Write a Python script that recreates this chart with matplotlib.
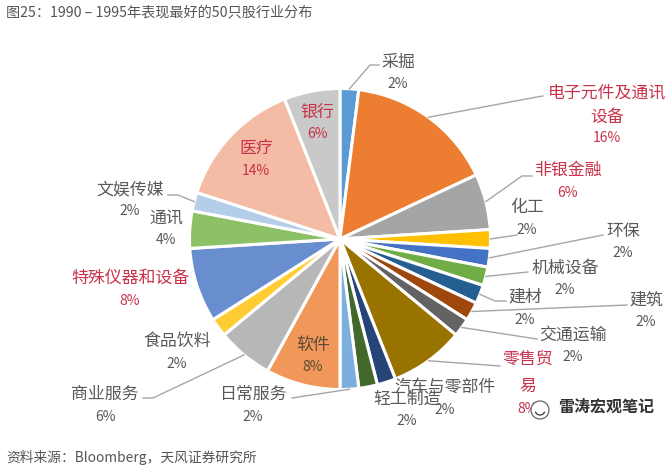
import matplotlib
matplotlib.use('Agg')
import numpy as np
import matplotlib.pyplot as plt
from matplotlib.patches import Circle, Arc

plt.rcParams['font.family'] = ['Noto Sans CJK SC', 'DejaVu Sans']

# 行业分布，从12点方向顺时针
sectors = ['采掘', '电子元件及通讯设备', '非银金融', '化工', '环保', '机械设备', '建材', '建筑',
           '交通运输', '零售贸易', '汽车与零部件', '轻工制造', '日常服务', '软件', '商业服务',
           '食品饮料', '特殊仪器和设备', '通讯', '文娱传媒', '医疗', '银行']
shares = [2, 16, 6, 2, 2, 2, 2, 2, 2, 8, 2, 2, 2, 8, 6, 2, 8, 4, 2, 14, 6]
colors = ['#5B9BD5', '#ED7D31', '#A5A5A5', '#FFC000', '#4472C4', '#70AD47', '#255E91', '#9E480E',
          '#636363', '#997300', '#264478', '#43682B', '#7CAFDD', '#F1975A', '#B7B7B7',
          '#FFCD33', '#698ED0', '#8CC168', '#B4CDE9', '#F4BBA5', '#C9C9C9']
title = '图25：1990 – 1995年表现最好的50只股行业分布'
source = '资料来源：Bloomberg，天风证券研究所'
red_names = ['电子元件及通讯设备', '非银金融', '零售贸易', '特殊仪器和设备', '医疗', '银行']

W, H = 672, 468
CX, CY, R = 340, 239, 150.5

# 标签文字行及中心位置（像素，y向下）
label_lines = {
    '采掘': (398, [(62, '采掘')], 84),
    '电子元件及通讯设备': (607, [(92, '电子元件及通讯'), (117, '设备')], 138),
    '非银金融': (568, [(170, '非银金融')], 193),
    '化工': (527, [(207, '化工')], 230),
    '环保': (623, [(231, '环保')], 253),
    '机械设备': (565, [(268, '机械设备')], 290),
    '建材': (525, [(297, '建材')], 320),
    '建筑': (646, [(300, '建筑')], 322),
    '交通运输': (573, [(335, '交通运输')], 357),
    '零售贸易': (528, [(360, '零售贸'), (386, '易')], 409),
    '汽车与零部件': (445, [(387, '汽车与零部件')], 410),
    '轻工制造': (407, [(399, '轻工制造')], 421),
    '日常服务': (253, [(394, '日常服务')], 417),
    '软件': (313, [(345, '软件')], 367),
    '商业服务': (105, [(394, '商业服务')], 417),
    '食品饮料': (177, [(341, '食品饮料')], 364),
    '特殊仪器和设备': (130, [(278, '特殊仪器和设备')], 301),
    '通讯': (166, [(218, '通讯')], 240),
    '文娱传媒': (130, [(189, '文娱传媒')], 211),
    '医疗': (256, [(148, '医疗')], 171),
    '银行': (317, [(112, '银行')], 134),
}
# 引导线折点（像素），起点取扇区外缘
leaders = {
    '采掘': [(370, 65), (379, 65)],
    '电子元件及通讯设备': [(537, 97), (543, 96)],
    '非银金融': [(522, 176), (532, 176)],
    '化工': [(517, 235)],
    '环保': [(603, 235)],
    '机械设备': [(528, 272)],
    '建材': [(495, 301), (506, 301)],
    '建筑': [(627, 305)],
    '交通运输': [(537, 339)],
    '零售贸易': [(500, 366)],
    '日常服务': [(292, 398)],
    '商业服务': [(153, 398), (143, 398)],
    '文娱传媒': [(178, 195), (168, 195)],
}

fig = plt.figure(figsize=(W / 100, H / 100), dpi=100, facecolor='white')
ax = fig.add_axes([0, 0, 1, 1])
wedges, _ = ax.pie(shares, colors=colors, startangle=90, counterclock=False, radius=R,
                   center=(CX, H - CY), wedgeprops={'edgecolor': 'white', 'linewidth': 2.2})
ax.set_xlim(0, W)
ax.set_ylim(0, H)
ax.set_aspect('equal')
ax.axis('off')


def put(x, y, s, **kw):
    ax.text(x, H - y, s, ha=kw.pop('ha', 'center'), va='center', **kw)


for name, w in zip(sectors, wedges):
    if name in leaders:
        mid = np.deg2rad((w.theta1 + w.theta2) / 2)
        px = [CX + R * np.cos(mid)] + [p[0] for p in leaders[name]]
        py = [H - CY + R * np.sin(mid)] + [H - p[1] for p in leaders[name]]
        ax.plot(px, py, color='#A6A6A6', lw=1.0, zorder=3)

for name, value in zip(sectors, shares):
    x, lines, pct_y = label_lines[name]
    c = '#C8324A' if name in red_names else '#595959'
    if name == '软件':
        c = '#5A4A35'
    for y, s in lines:
        put(x, y, s, fontsize=12.2, color=c, zorder=5)
    put(x, pct_y, f'{value}%', fontsize=10, color=c, zorder=5)

put(6, 12, title, ha='left', fontsize=10.2, color='#555555')
put(6, 457, source, ha='left', fontsize=9.9, color='#555555')

# 公众号水印
ax.add_patch(Circle((540, H - 410), 9, facecolor='white', edgecolor='#666666', lw=0.9, zorder=6))
ax.add_patch(Arc((540, H - 410), 10, 10, theta1=200, theta2=340, color='#444444', lw=1.0, zorder=7))
put(606, 407, '雷涛宏观笔记', fontsize=11.5, color='#333333', fontweight='bold', zorder=7)

fig.savefig('out.png', dpi=100, facecolor='white')
